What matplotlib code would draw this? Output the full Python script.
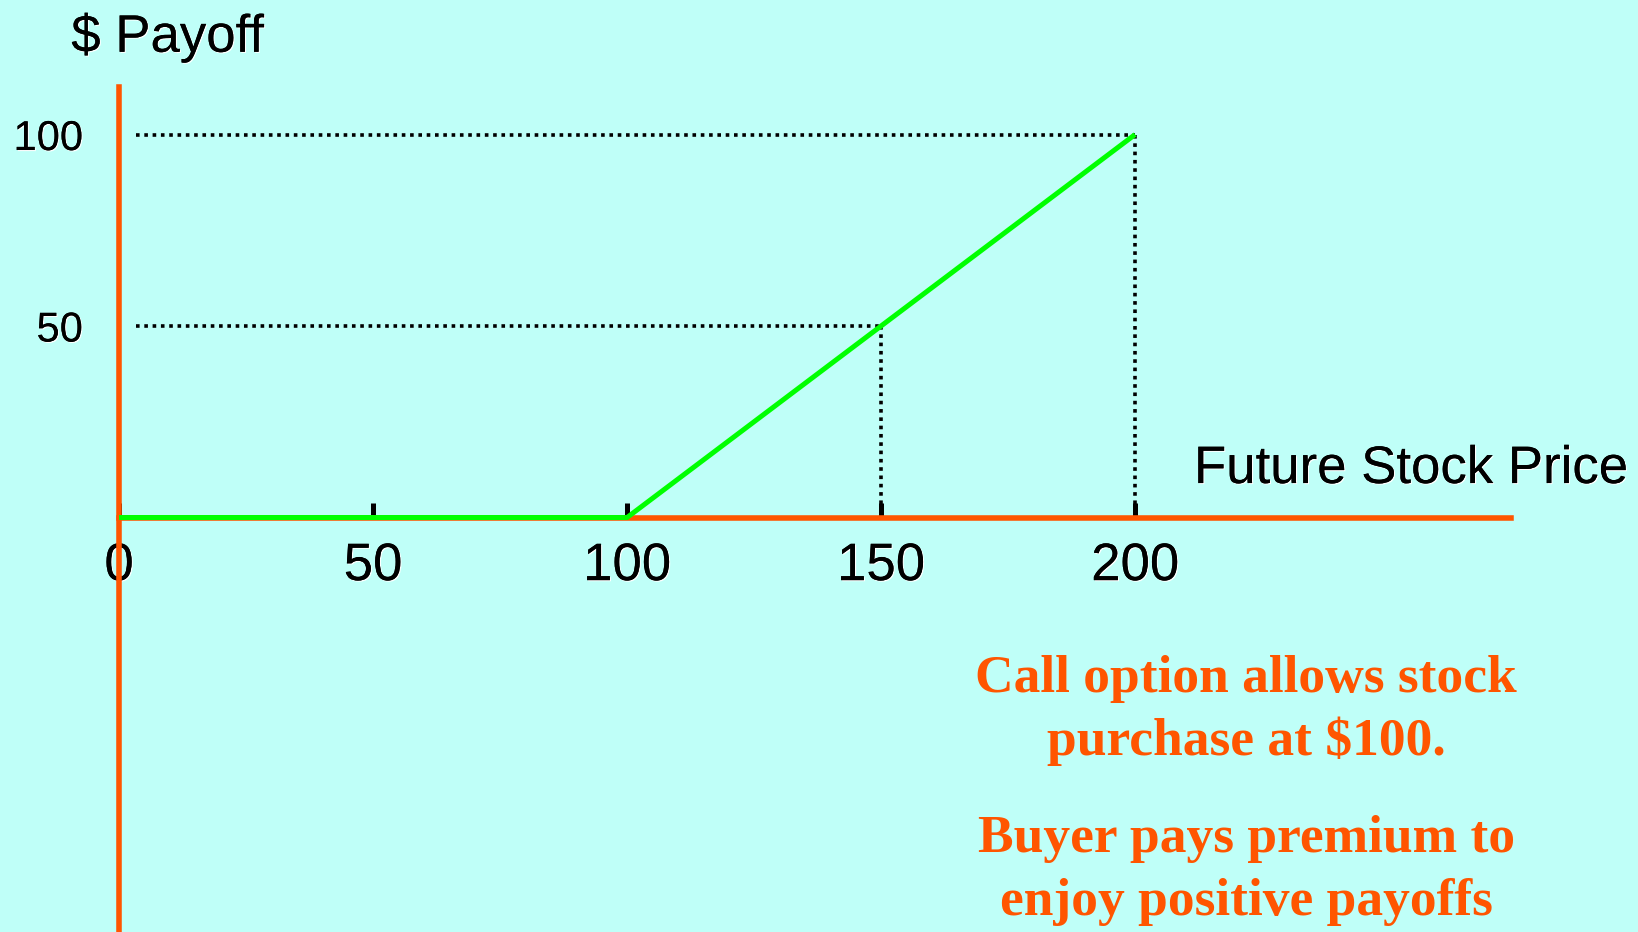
import matplotlib.pyplot as plt
import matplotlib.patheffects as pe

# payoff of a call option, strike 100
price = [0, 100, 200]
payoff = [0, 0, 100]

x_ticks = [0, 50, 100, 150, 200]
y_ticks = [50, 100]

# dotted guides to the points (150, 50) and (200, 100)
guide_x = [150, 200]
guide_y = [50, 100]

note_lines = ["Call option allows stock",
              "purchase at $100.",
              "Buyer pays premium to",
              "enjoy positive payoffs"]
note_y = [-45.5, -62.1, -87.3, -103.9]

bg = '#BFFFF8'
orange = '#FF5500'
green = '#00FF00'

shadow = [pe.withSimplePatchShadow(offset=(0.8, -0.8), shadow_rgbFace='white', alpha=1), pe.Normal()]

fig = plt.figure(figsize=(16.38, 9.32), dpi=100)
fig.patch.set_facecolor(bg)
ax = fig.add_axes([0, 0, 1, 1])
ax.set_facecolor(bg)
ax.set_xlim(-23.43, 299.0)
ax.set_ylim(-108.22, 135.12)

# axes as orange lines crossing at the origin
for s in ['top', 'right']:
    ax.spines[s].set_visible(False)
ax.spines['left'].set_position(('data', 0))
ax.spines['bottom'].set_position(('data', 0))
ax.spines['left'].set_bounds(-110, 112.4)
ax.spines['bottom'].set_bounds(0, 274.0)
for s in ['left', 'bottom']:
    ax.spines[s].set_color(orange)
    ax.spines[s].set_linewidth(4)

ax.set_xticks(x_ticks)
ax.set_xticklabels([str(v) for v in x_ticks])
ax.tick_params(axis='x', direction='in', length=11, width=3.6, color='black',
               labelsize=38, pad=17)
ax.set_yticks(y_ticks)
ax.set_yticklabels([str(v) for v in y_ticks])
ax.tick_params(axis='y', length=0, labelsize=30, pad=26)
for lbl in ax.get_xticklabels() + ax.get_yticklabels():
    lbl.set_fontfamily('Liberation Sans')
    lbl.set_path_effects(shadow)

# dotted guides
for gx, gy in zip(guide_x, guide_y):
    ax.plot([3.4, gx], [gy, gy], color='black', lw=2.6, ls=(0, (1, 1.3)),
            dash_capstyle='butt', zorder=2)
    ax.plot([gx, gx], [gy, 0], color='black', lw=2.6, ls=(0, (1, 1.3)),
            dash_capstyle='butt', zorder=2)

ax.plot(price, payoff, color=green, lw=3.6, zorder=3, solid_capstyle='butt')

ax.text(-9.4, 121.6, "$ Payoff", fontsize=38, family='Liberation Sans',
        ha='left', va='baseline', path_effects=shadow)
ax.text(211.6, 9.0, "Future Stock Price", fontsize=38, family='Liberation Sans',
        ha='left', va='baseline', path_effects=shadow)

for line, y in zip(note_lines, note_y):
    ax.text(221.9, y, line, fontsize=38.5, family='Liberation Serif', fontweight='bold',
            color=orange, ha='center', va='baseline')

fig.savefig('out.png', dpi=100, facecolor=bg)
